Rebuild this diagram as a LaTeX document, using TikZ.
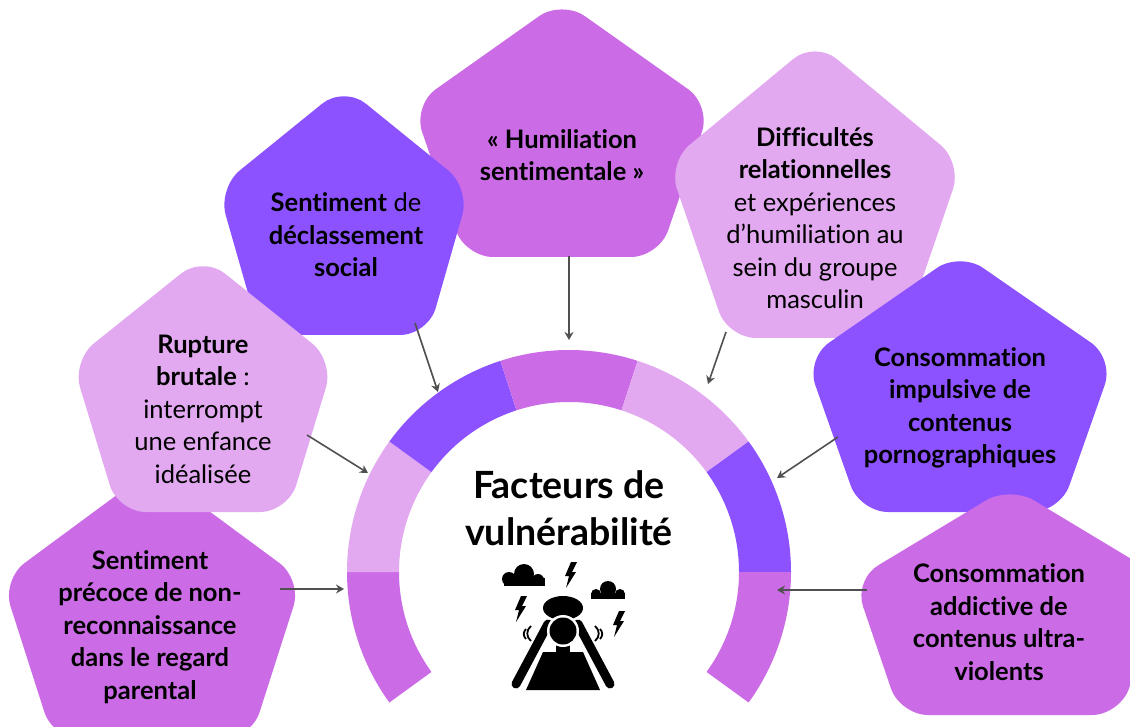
\documentclass[tikz,border=0pt]{standalone}
\usepackage{fontspec}
\setmainfont{Lato}[Ligatures=NoCommon]
\usetikzlibrary{arrows.meta}

\definecolor{cMauve}{HTML}{CB6CE6}
\definecolor{cViolet}{HTML}{8C52FF}
\definecolor{cRose}{HTML}{E2A9F1}
\definecolor{cFleche}{HTML}{505050}

% pentagone arrondi : centre x, sommet y, demi-largeur, hauteur, demi-base, couleur
\newcommand{\pent}[6]{%
  \fill[#6, rounded corners=28pt] (#1,#2+#4) -- ({#1-#5},{#2+#4}) -- ({#1-#3},{#2+0.41*#4})
    -- (#1,#2) -- ({#1+#3},{#2+0.41*#4}) -- ({#1+#5},{#2+#4}) -- cycle;}
% eclair
\newcommand{\eclair}[2]{%
  \fill[shift={(#1,#2)}] (8,0) -- (14,0) -- (9,10) -- (13,10) -- (3,26) -- (6,14) -- (2,14) -- cycle;}

\begin{document}
\begin{tikzpicture}[x=1pt, y=-1pt,
  fac/.style={align=center, font=\fontsize{25.5}{32.5}\selectfont},
  facb/.style={fac, font=\bfseries\fontsize{25.5}{32.5}\selectfont},
  titre/.style={align=center, font=\bfseries\fontsize{37.5}{47}\selectfont},
  fleche/.style={-{Stealth[length=8pt,width=9pt]}, draw=cFleche, line width=1.6pt}]
  \path[use as bounding box, fill=white] (0,0) rectangle (1130,727);
  \clip (0,0) rectangle (1130,727);

  % Pentagones
  \pent{562}{0}{149}{257}{97}{cMauve}
  \pent{344}{86}{126}{249}{84}{cViolet}
  \pent{152}{469}{150}{270}{99}{cMauve}
  \pent{203}{256}{131}{256}{85}{cRose}
  \pent{815}{41}{147}{297}{87}{cRose}
  \pent{960}{252}{154}{260}{100}{cViolet}
  \pent{1010}{486}{156}{229}{110}{cMauve}

  % Textes
  \node[facb] (humil) at (562,155) {«~Humiliation\\sentimentale~»};
  \node[fac] (declas) at (346,235) {\textbf{Sentiment} de\\\textbf{déclassement}\\\textbf{social}};
  \node[fac] (rupture) at (203,409) {\textbf{Rupture}\\\textbf{brutale} :\\interrompt\\une enfance\\idéalisée};
  \node[facb] (nonrec) at (150,627) {Sentiment\\précoce de non-\\reconnaissance\\dans le regard\\parental};
  \node[fac] (diffic) at (815,218) {\textbf{Difficultés}\\\textbf{relationnelles}\\et expériences\\d’humiliation au\\sein du groupe\\masculin};
  \node[facb] (porno) at (960,408) {Consommation\\impulsive de\\contenus\\pornographiques};
  \node[facb] (ultra) at (999,622) {Consommation\\addictive de\\contenus ultra-\\violents};

  % Arc central
  \foreach \a/\col in {216/cMauve, 180/cRose, 144/cViolet, 108/cMauve, 72/cRose, 36/cViolet, 0/cMauve} {
    \pgfmathsetmacro{\b}{\a-36}
    \fill[\col, shift={(569,572)}] (-\a:222) arc[start angle=-\a, end angle=-\b, radius=222]
      -- (-\b:170) arc[start angle=-\b, end angle=-\a, radius=170] -- cycle;
  }
  \node[titre] (titre) at (569,508) {Facteurs de\\vulnérabilité};

  % Icone
  \fill (504,578) rectangle (545,586);
  \fill (509,579) circle (7); \fill (524,574) circle (10); \fill (538,580) circle (6);
  \fill (591,593) rectangle (625,599);
  \fill (596,594) circle (5); \fill (608,589) circle (8); \fill (620,594) circle (5);
  \eclair{563}{562}
  \eclair{513}{596}
  \eclair{611}{611}
  \fill (543,652) -- (583,652) -- (600,690) -- (526,690) -- cycle;
  \fill (556,643) rectangle (570,653);
  \draw[white, line width=13pt, line cap=round] (516,684) -- (548,624) (610,684) -- (578,624);
  \draw[black, line width=9pt, line cap=round] (516,684) -- (548,624) (610,684) -- (578,624);
  \fill (563,608) ellipse [x radius=20, y radius=12];
  \fill[white] (563,631) circle (16);
  \fill (563,631) circle (13.5);
  \draw[line width=1.8pt] (531,626) .. controls (526,630) and (526,637) .. (531,641)
    (526,629) .. controls (523,632) and (523,636) .. (526,639);
  \draw[line width=1.8pt] (595,626) .. controls (600,630) and (600,637) .. (595,641)
    (600,629) .. controls (603,632) and (603,636) .. (600,639);

  % Fleches
  \coordinate (nonrec-s) at (280,589);  \coordinate (nonrec-e) at (344,589);
  \coordinate (rupture-s) at (307,435); \coordinate (rupture-e) at (368,473);
  \coordinate (declas-s) at (415,323);  \coordinate (declas-e) at (438,392);
  \coordinate (humil-s) at (569,256);   \coordinate (humil-e) at (569,340);
  \coordinate (diffic-s) at (726,332);  \coordinate (diffic-e) at (708,384);
  \coordinate (porno-s) at (838,437);   \coordinate (porno-e) at (777,478);
  \coordinate (ultra-s) at (867,590);   \coordinate (ultra-e) at (777,590);
  \foreach \n in {nonrec, rupture, declas, humil, diffic, porno, ultra}
    \draw[fleche] (\n-s) -- (\n-e);
\end{tikzpicture}
\end{document}
